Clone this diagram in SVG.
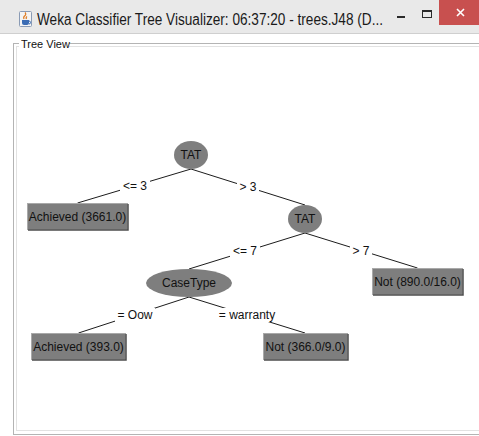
<svg xmlns="http://www.w3.org/2000/svg" width="479" height="436" viewBox="0 0 479 436">
  <style>
    .title { font-family: "Liberation Sans", Arial, sans-serif; font-size: 16px; fill: #1a1a1a; }
    .caption { font-family: "Liberation Sans", Arial, sans-serif; font-size: 11px; fill: #111; }
    .lbl { font-family: "Liberation Sans", Arial, sans-serif; font-size: 12px; fill: #111; text-anchor: middle; }
    .node-ellipse { fill: #7e7e7e; }
    .node-box { fill: #7e7e7e; stroke: #a9a9a9; stroke-width: 1; }
    .node-shade { fill: none; stroke: #4e4e4e; stroke-width: 1.5; }
    .edge { stroke: #1c1c1c; stroke-width: 1; fill: none; }
    .lbl-bg { fill: #ffffff; }
  </style>

  <!-- window background -->
  <rect x="0" y="0" width="479" height="436" fill="#ffffff"/>

  <!-- title bar -->
  <g id="titlebar">
    <rect x="0" y="0" width="479" height="33" fill="#e9e9e9"/>
    <line x1="0" y1="33.5" x2="479" y2="33.5" stroke="#cfcfcf"/>
    <!-- application icon -->
    <g id="app-icon">
      <rect x="19.5" y="11.5" width="12" height="15" rx="1" fill="#f4f4f4" stroke="#8a9bb5"/>
      <path d="M22 20 h7 v3 a2 2 0 0 1 -2 2 h-3 a2 2 0 0 1 -2 -2 z" fill="#3b6cb4"/>
      <path d="M29 21 a1.5 1.5 0 0 1 0 3" fill="none" stroke="#3b6cb4"/>
      <path d="M24 19 q-1 -2 1 -3.5 q1.5 -1.2 0 -3" fill="none" stroke="#e07b20" stroke-width="1.2"/>
      <path d="M26.5 19 q-1 -1.5 0.5 -2.5" fill="none" stroke="#e07b20" stroke-width="1.2"/>
    </g>
    <text class="title" x="37" y="25" textLength="346" lengthAdjust="spacingAndGlyphs">Weka Classifier Tree Visualizer: 06:37:20 - trees.J48 (D...</text>
    <!-- window controls -->
    <line x1="397" y1="17" x2="405" y2="17" stroke="#2a2a2a" stroke-width="2"/>
    <rect x="422.5" y="10.5" width="9" height="7" fill="none" stroke="#2a2a2a"/>
    <line x1="422.5" y1="11.5" x2="431.5" y2="11.5" stroke="#2a2a2a"/>
    <rect x="439" y="0" width="40" height="25" fill="#c8504f"/>
    <path d="M457 9 L464 16 M464 9 L457 16" stroke="#ffffff" stroke-width="1.6"/>
  </g>

  <!-- titled panel border -->
  <g id="panel">
    <rect x="13.5" y="43.5" width="480" height="391" fill="none" stroke="#b4b4b4"/>
    <rect x="16.5" y="46.5" width="480" height="384" fill="none" stroke="#e2e2e2"/>
    <rect x="19" y="39" width="50" height="11" fill="#ffffff"/>
    <text class="caption" x="21" y="48">Tree View</text>
  </g>

  <!-- connectors with their labels -->
  <g id="edges">
    <line class="edge" x1="191" y1="169" x2="77.5" y2="203"/>
    <line class="edge" x1="191" y1="169" x2="305" y2="205"/>
    <line class="edge" x1="305" y1="233" x2="189" y2="269"/>
    <line class="edge" x1="305" y1="233" x2="417.5" y2="268"/>
    <line class="edge" x1="189" y1="297" x2="78.5" y2="333"/>
    <line class="edge" x1="189" y1="297" x2="305" y2="333"/>

    <rect class="lbl-bg" x="120" y="179" width="30" height="14"/>
    <text class="lbl" x="135" y="190">&lt;= 3</text>
    <rect class="lbl-bg" x="237" y="180" width="22" height="14"/>
    <text class="lbl" x="248" y="191">&gt; 3</text>
    <rect class="lbl-bg" x="230" y="244" width="30" height="14"/>
    <text class="lbl" x="245" y="255">&lt;= 7</text>
    <rect class="lbl-bg" x="350" y="244" width="22" height="14"/>
    <text class="lbl" x="361" y="255">&gt; 7</text>
    <rect class="lbl-bg" x="115" y="308" width="40" height="14"/>
    <text class="lbl" x="135" y="319">= Oow</text>
    <rect class="lbl-bg" x="217" y="308" width="61" height="14"/>
    <text class="lbl" x="247" y="319">= warranty</text>
  </g>

  <!-- decision nodes -->
  <g id="node-tat-root">
    <ellipse class="node-ellipse" cx="191" cy="155" rx="17" ry="14"/>
    <text class="lbl" x="191" y="159">TAT</text>
  </g>
  <g id="node-tat-right">
    <ellipse class="node-ellipse" cx="305" cy="219" rx="17" ry="14"/>
    <text class="lbl" x="305" y="223">TAT</text>
  </g>
  <g id="node-casetype">
    <ellipse class="node-ellipse" cx="189" cy="283" rx="43" ry="14"/>
    <text class="lbl" x="189" y="287">CaseType</text>
  </g>

  <!-- leaf nodes -->
  <g id="leaf-achieved-3661">
    <rect class="node-box" x="27.5" y="203.5" width="100" height="26"/>
    <path class="node-shade" d="M28 230 H128 V204"/>
    <text class="lbl" x="77.5" y="221">Achieved (3661.0)</text>
  </g>
  <g id="leaf-not-890">
    <rect class="node-box" x="372.5" y="268.5" width="90" height="26"/>
    <path class="node-shade" d="M373 295 H463 V269"/>
    <text class="lbl" x="417.5" y="286">Not (890.0/16.0)</text>
  </g>
  <g id="leaf-achieved-393">
    <rect class="node-box" x="31.5" y="333.5" width="94" height="26"/>
    <path class="node-shade" d="M32 360 H126 V334"/>
    <text class="lbl" x="78.5" y="351">Achieved (393.0)</text>
  </g>
  <g id="leaf-not-366">
    <rect class="node-box" x="263.5" y="333.5" width="84" height="26"/>
    <path class="node-shade" d="M264 360 H348 V334"/>
    <text class="lbl" x="305.5" y="351">Not (366.0/9.0)</text>
  </g>
</svg>
